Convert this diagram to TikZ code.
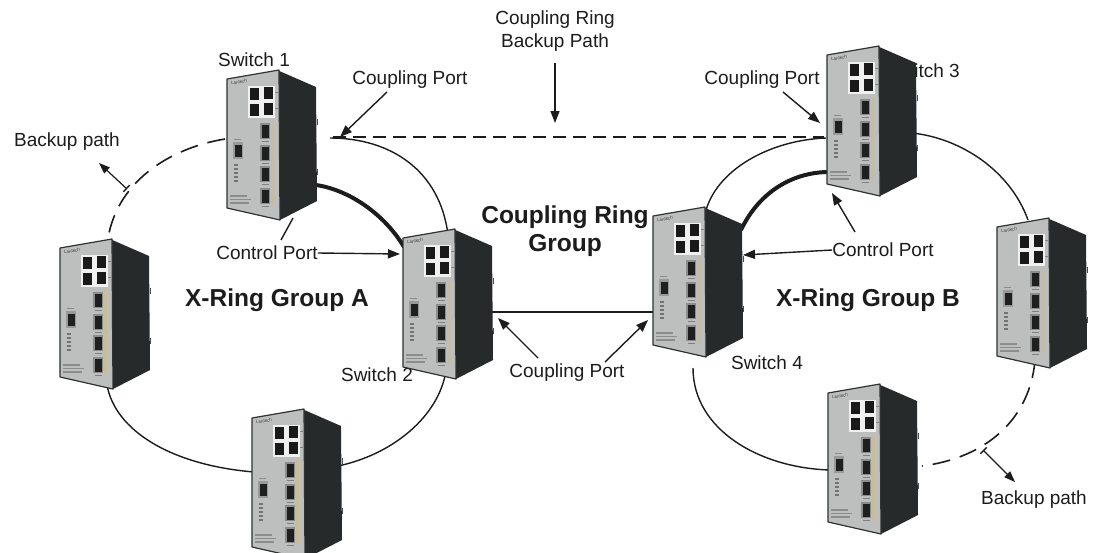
\documentclass[tikz,border=0pt]{standalone}
\usepackage{fontspec}
\setmainfont{Liberation Sans}
\usetikzlibrary{arrows.meta}
\definecolor{swfront}{HTML}{BCBFBE}
\definecolor{swside}{HTML}{262A2B}
\definecolor{swedge}{HTML}{2E3232}
\definecolor{sfpstrip}{HTML}{C9BC98}
\definecolor{inkc}{HTML}{1C1C1C}
\tikzset{
  x=1pt, y=-1pt,
  ring/.style={draw=inkc, line width=1.4pt},
  thickring/.style={draw=inkc, line width=4pt},
  backup/.style={draw=inkc, line width=1.6pt, dash pattern=on 18pt off 10pt},
  cbackup/.style={draw=inkc, line width=1.6pt, dash pattern=on 13pt off 7pt},
  pointer/.style={draw=inkc, line width=1.4pt, -{Triangle[length=12pt,width=9pt]}},
  leader/.style={draw=inkc, line width=1.4pt},
  backptr/.style={draw=inkc, line width=1.2pt, {Bar[width=9pt,line width=1.4pt]}-{Triangle[length=11pt,width=8pt]}},
  lbl/.style={font=\fontsize{19}{23}\selectfont, text=inkc, inner sep=0pt, align=center},
  ttl/.style={font=\bfseries\fontsize{24.5}{28}\selectfont, text=inkc, inner sep=0pt, align=center},
  lanswitch/.pic={
    \fill[swside] (50,-9) -- (89,8) -- (90,122) -- (53,141) -- cycle;
    \fill[black!70] (89.5,40) rectangle (91,46);
    \fill[black!70] (89.5,90) rectangle (91,96);
    \draw[swedge, line width=1.2pt, line join=round, fill=swfront] (0,0) -- (52,-9) -- (53,141) -- (0,129) -- cycle;
    \node[rotate=10, font=\fontsize{4.5}{5}\selectfont, text=black!75, inner sep=0pt] at (12,3) {Lantech};
    % RJ45 block
    \fill[white!94!black] (21,7) rectangle (48,39);
    \fill[black!90] (23,9) rectangle (32,21);
    \fill[black!90] (37,8) rectangle (46,20);
    \fill[black!90] (23,25) rectangle (32,37);
    \fill[black!90] (37,24) rectangle (46,36);
    \fill[black!50] (48,13) rectangle (51,14);
    \fill[black!50] (48,29) rectangle (51,30);
    % SFP column
    \fill[sfpstrip] (44,42) rectangle (47,126);
    \foreach \yy in {44,66,87,109} {
      \fill[black!45] (33,\yy) rectangle (43,\yy+16);
      \fill[black!88] (34.5,\yy+1.5) rectangle (41.5,\yy+14.5);
      \fill[black!50] (35,\yy+18) rectangle (42,\yy+19);
    }
    % console
    \fill[black!40] (6,63) rectangle (16,80);
    \fill[black!88] (7.5,65.5) rectangle (14.5,77.5);
    \fill[black!45] (7,60) rectangle (14,61);
    \foreach \yy in {85,89,93,97,101} {\fill[black!55] (7,\yy) rectangle (11,\yy+1.5);}
    \fill[black!45] (3,116) rectangle (20,117.5);
    \fill[black!45] (3,119.5) rectangle (24,121);
    \fill[black!45] (3,123) rectangle (22,124.5);
  }
}
\begin{document}
\begin{tikzpicture}
\useasboundingbox (0,0) rectangle (1094,552);
\fill[white] (0,0) rectangle (1094,552);

% ---- connection points
\coordinate (s1L) at (225,139);
\coordinate (sLT) at (107,245);
\coordinate (sLB) at (107,385);
\coordinate (sAL) at (254,472);
\coordinate (sAR) at (338,466);
\coordinate (s2B) at (445,376);
\coordinate (s1R) at (330,138);
\coordinate (s2T) at (448,235);
\coordinate (s1C) at (316,185);
\coordinate (s2C) at (404,247);
\coordinate (s1P) at (333,137);
\coordinate (s3P) at (824,137);
\coordinate (s2P) at (492,312);
\coordinate (s4P) at (655,312);
\coordinate (s3L) at (826,138);
\coordinate (s4T) at (705,214);
\coordinate (s3C) at (829,172);
\coordinate (s4C) at (741,230);
\coordinate (s3R) at (912,133);
\coordinate (sRT) at (1028,220);
\coordinate (sRB) at (1035,360);
\coordinate (sBR) at (922,466);
\coordinate (s4B) at (693,368);
\coordinate (sBL) at (830,470);

% ---- ring A
\draw[backup] (s1L) .. controls (170,148) and (114,182) .. (sLT);
\draw[ring] (sLB) .. controls (115,430) and (170,465) .. (sAL);
\draw[ring] (sAR) .. controls (390,455) and (435,420) .. (s2B);
\draw[ring] (s1R) .. controls (390,138) and (440,170) .. (s2T);
\draw[thickring] (s1C) .. controls (350,190) and (385,215) .. (s2C);
% ---- coupling
\draw[cbackup] (s1P) -- (s3P);
\draw[ring] (s2P) -- (s4P);
% ---- ring B
\draw[ring] (s3L) .. controls (770,140) and (715,170) .. (s4T);
\draw[thickring] (s3C) .. controls (795,172) and (760,190) .. (s4C);
\draw[ring] (s3R) .. controls (960,138) and (1010,170) .. (sRT);
\draw[backup] (sRB) .. controls (1030,420) and (985,458) .. (sBR);
\draw[ring] (s4B) .. controls (693,430) and (760,468) .. (sBL);

% labels partly hidden behind switches
\node[lbl, anchor=east] (lsw3) at (960,71) {Switch 3};
\node[lbl] (lsw2) at (377,375) {Switch 2};
\node[lbl] (lsw4) at (767,363) {Switch 4};

% ---- switches
\pic (sw1) at (227,79) {lanswitch};
\pic (swL) at (60,248) {lanswitch};
\pic (sw2) at (403,238) {lanswitch};
\pic (swA) at (252,418) {lanswitch};
\pic (sw3) at (827,55) {lanswitch};
\pic (sw4) at (653,216) {lanswitch};
\pic (swR) at (997,227) {lanswitch};
\pic (swB) at (828,393) {lanswitch};

% ---- labels
\node[lbl] (lsw1) at (254,60) {Switch 1};
\node[lbl] (cpL) at (410,80) {Coupling Port};
\node[lbl] (crb) at (555,31) {Coupling Ring\\Backup Path};
\node[lbl] (cpR) at (762,80) {Coupling Port};
\node[lbl] (bpA) at (67,142) {Backup path};
\node[lbl] (ctlL) at (267,253) {Control Port};
\node[ttl] (xa) at (277,300) {X-Ring Group A};
\node[ttl] (crg) at (565,231) {Coupling Ring\\Group};
\node[lbl] (cpB) at (567,373) {Coupling Port};
\node[lbl] (ctlR) at (883,250) {Control Port};
\node[ttl] (xb) at (868,300) {X-Ring Group B};
\node[lbl] (bpB) at (1034,500) {Backup path};

% ---- arrows
\coordinate (cpLs) at (387,92);   \coordinate (cpLt) at (340,137);
\draw[pointer] (cpLs) -- (cpLt);
\coordinate (crbs) at (555,63);   \coordinate (crbt) at (555,123);
\draw[pointer] (crbs) -- (crbt);
\coordinate (cpRs) at (783,92);   \coordinate (cpRt) at (820,123);
\draw[pointer] (cpRs) -- (cpRt);
\coordinate (ctlLa) at (293,218); \coordinate (ctlLb) at (281,240);
\draw[leader] (ctlLa) -- (ctlLb);
\coordinate (ctlLt) at (400,254);
\draw[pointer] (ctlL.east) -- (ctlLt);
\coordinate (ctlRt) at (743,255);
\draw[pointer] (ctlR.west) -- (ctlRt);
\coordinate (ctlRs) at (855,232); \coordinate (ctlRu) at (832,193);
\draw[pointer] (ctlRs) -- (ctlRu);
\coordinate (cpB1s) at (538,358); \coordinate (cpB1t) at (498,318);
\draw[pointer] (cpB1s) -- (cpB1t);
\coordinate (cpB2s) at (605,362); \coordinate (cpB2t) at (648,320);
\draw[pointer] (cpB2s) -- (cpB2t);
\coordinate (bkA) at (127,189);   \coordinate (bkAt) at (99,163);
\draw[backptr] (bkA) -- (bkAt);
\coordinate (bkB) at (983,450);   \coordinate (bkBt) at (1015,482);
\draw[backptr] (bkB) -- (bkBt);
\end{tikzpicture}
\end{document}
